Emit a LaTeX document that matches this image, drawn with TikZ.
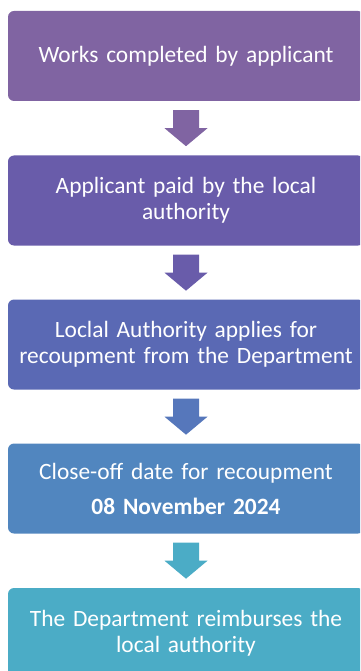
\documentclass[tikz,border=0pt]{standalone}
\usepackage{fontspec}
\setmainfont{Carlito}

\definecolor{stepA}{HTML}{8064A2}
\definecolor{stepB}{HTML}{695CAA}
\definecolor{stepC}{HTML}{5A69B4}
\definecolor{stepD}{HTML}{5186BF}
\definecolor{stepE}{HTML}{4BACC6}
\definecolor{stepCD}{HTML}{5677BB}

\begin{document}
\begin{tikzpicture}[
    x=1pt, y=1pt,
    box/.style={rectangle, rounded corners=6pt, minimum width=356pt, minimum height=90pt,
        text width=350pt, align=center, text=white, inner sep=0pt,
        font=\fontsize{23.4}{26}\selectfont}
]
\clip (0,0) rectangle (360,-671);
\useasboundingbox (0,0) rectangle (360,-671);

\node[box, fill=stepA] (works) at (186,-56) {Works completed by applicant};
\node[box, fill=stepB] (paid) at (186,-200.5) {Applicant paid by the local\\authority};
\node[box, fill=stepC] (applies) at (186,-344.5) {Loclal Authority applies for\\recoupment from the Department};
\node[box, fill=stepD] (closeoff) at (186,-488.5) {Close-off date for recoupment\\[9pt]\textbf{08 November 2024}};
\node[box, fill=stepE] (reimb) at (186,-633) {The Department reimburses the\\local authority};

% block arrows between the steps
\foreach \from/\col in {works/stepA, paid/stepB, applies/stepCD, closeoff/stepE}
    \fill[\col] ([xshift=-13pt, yshift=-9pt]\from.south) -- ++(26,0) -- ++(0,-18)
        -- ++(8.5,0) -- ++(-21.5,-18) -- ++(-21.5,18) -- ++(8.5,0) -- cycle;

\end{tikzpicture}
\end{document}
